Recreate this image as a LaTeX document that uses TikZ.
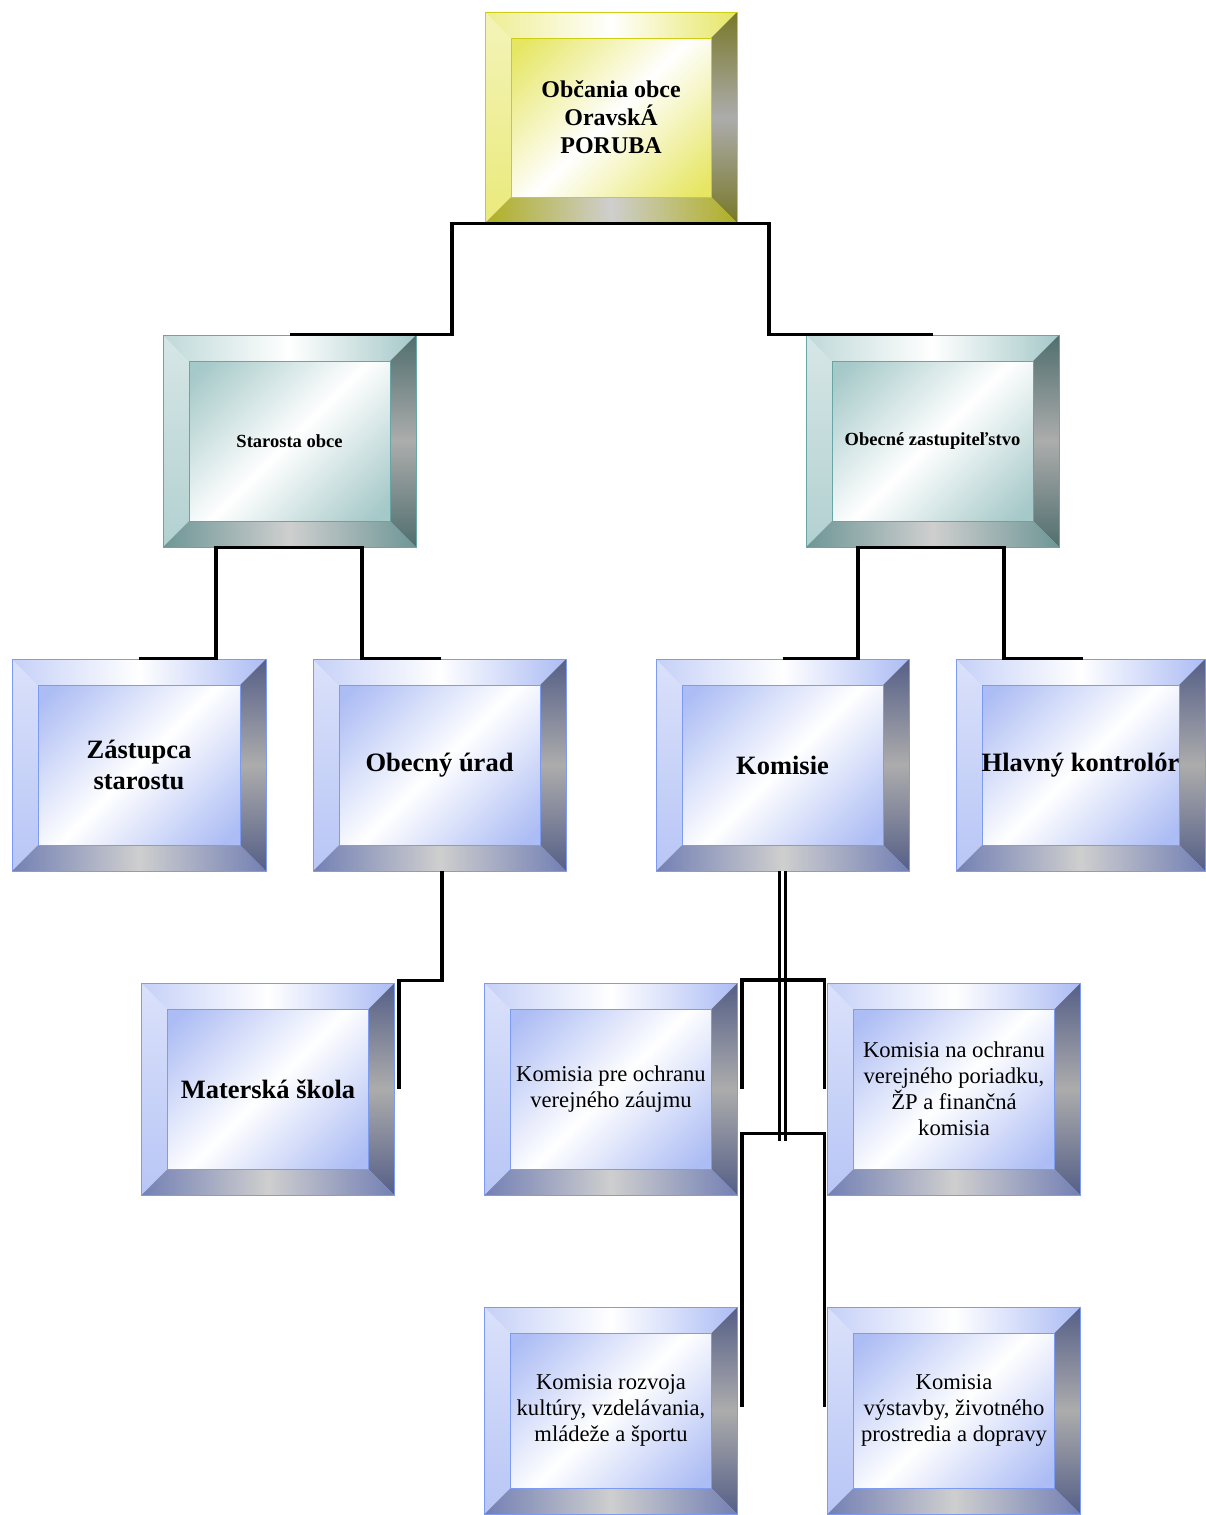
\documentclass[tikz,border=0pt]{standalone}
\usepackage{fontspec}
\setmainfont{Liberation Serif}
\definecolor{yelface}{RGB}{230,230,100}
\definecolor{yeledge}{RGB}{205,205,20}
\definecolor{yeldark}{RGB}{120,120,40}
\definecolor{yelmid}{RGB}{175,175,35}
\definecolor{tealface}{RGB}{165,200,200}
\definecolor{tealedge}{RGB}{105,165,165}
\definecolor{tealdark}{RGB}{80,110,110}
\definecolor{tealmid}{RGB}{110,150,150}
\definecolor{blueface}{RGB}{172,188,244}
\definecolor{blueedge}{RGB}{125,155,240}
\definecolor{bluedark}{RGB}{85,95,135}
\definecolor{bluemid}{RGB}{115,128,180}
\newcommand\orgbox[4]{\node[#2] (#1) at (#3) {#4};}
\tikzset{bevel/.style={draw=#1edge,line width=0.8pt,align=center,
  top color=#1face,bottom color=#1face,middle color=white,shading angle=45,
  minimum width=253pt,minimum height=212pt,
  path picture={
    \coordinate (nw) at (path picture bounding box.north west);
    \coordinate (ne) at (path picture bounding box.north east);
    \coordinate (se) at (path picture bounding box.south east);
    \coordinate (sw) at (path picture bounding box.south west);
    \shade[left color=#1face!70!white,right color=#1face,middle color=white]
      (nw) -- (ne) -- ([shift={(-26,26)}]ne) -- ([shift={(26,26)}]nw) -- cycle;
    \shade[top color=#1face!45!white,bottom color=#1face!85!white]
      (nw) -- ([shift={(26,26)}]nw) -- ([shift={(26,-26)}]sw) -- (sw) -- cycle;
    \shade[top color=#1dark,bottom color=#1dark,middle color=gray!65]
      (ne) -- (se) -- ([shift={(-26,-26)}]se) -- ([shift={(-26,26)}]ne) -- cycle;
    \shade[left color=#1mid,right color=#1mid,middle color=gray!38]
      (sw) -- (se) -- ([shift={(-26,-26)}]se) -- ([shift={(26,-26)}]sw) -- cycle;
    \draw[#1edge,line width=0.8pt] ([shift={(26,26)}]nw) rectangle ([shift={(-26,-26)}]se);
  }}}
\begin{document}
\begin{tikzpicture}[x=1pt,y=-1pt]
\tikzstyle{topfont}=[font=\bfseries\fontsize{24}{28}\selectfont]
\tikzstyle{midfont}=[font=\bfseries\fontsize{18.5}{21}\selectfont]
\tikzstyle{bigfont}=[font=\bfseries\fontsize{26.5}{31}\selectfont]
\tikzstyle{komfont}=[font=\fontsize{22.6}{26}\selectfont]
\tikzstyle{link}=[draw,line width=3.2pt]
\useasboundingbox (0,0) rectangle (1205,1515);

% levels
\orgbox{obcania}{bevel=yel,topfont,minimum width=252pt,minimum height=211pt}{611,117.5}{Občania obce\\OravskÁ\\PORUBA}
\orgbox{starosta}{bevel=teal,midfont}{289.5,441}{Starosta obce}
\orgbox{zastup}{bevel=teal,midfont}{932.5,441}{Obecné zastupiteľstvo}
\orgbox{zastupca}{bevel=blue,bigfont,minimum width=254pt}{139,765}{Zástupca\\starostu}
\orgbox{urad}{bevel=blue,bigfont}{439.5,765}{Obecný úrad}
\orgbox{komisie}{bevel=blue,bigfont}{782.5,765}{Komisie}
\orgbox{kontrolor}{bevel=blue,bigfont,minimum width=249pt}{1080.5,765}{Hlavný kontrolór}
\orgbox{skola}{bevel=blue,bigfont}{268,1089}{Materská škola}
\orgbox{kzaujem}{bevel=blue,komfont}{611,1089}{Komisia pre ochranu\\verejného záujmu}
\orgbox{kporiadok}{bevel=blue,komfont}{954,1089}{Komisia na ochranu\\verejného poriadku,\\ŽP a finančná\\komisia}
\orgbox{kkultura}{bevel=blue,komfont,minimum height=207pt}{611,1410.5}{Komisia rozvoja\\kultúry, vzdelávania,\\mládeže a športu}
\orgbox{kvystavba}{bevel=blue,komfont,minimum height=207pt}{954,1410.5}{Komisia\\výstavby, životného\\prostredia a dopravy}

%% connections
\path[link] (starosta.north) -| ([xshift=-159pt]obcania.south) -- ([xshift=158pt]obcania.south) |- (zastup.north);
\path[link] (zastupca.north) -| ([xshift=-73.5pt]starosta.south) -- ([xshift=72.5pt]starosta.south) |- ([xshift=1pt]urad.north);
\path[link] (komisie.north) -| ([xshift=-74.5pt]zastup.south) -- ([xshift=71.5pt]zastup.south) |- ([xshift=2pt]kontrolor.north);
\path[link] ([xshift=2.5pt]urad.south) -- ++(0,109) -| ([xshift=4pt]skola.east);
\draw[double,double distance=3.2pt,line width=2.6pt] (komisie.south) -- ++(0,270);
\path[link] ([xshift=4pt]kzaujem.east) -- ++(0,-109) -| ([xshift=-3pt]kporiadok.west);
\path[link] ([shift={(4pt,4pt)}]kkultura.east) -- ++(0,-273) -| ([shift={(-3pt,4pt)}]kvystavba.west);
\end{tikzpicture}
\end{document}
